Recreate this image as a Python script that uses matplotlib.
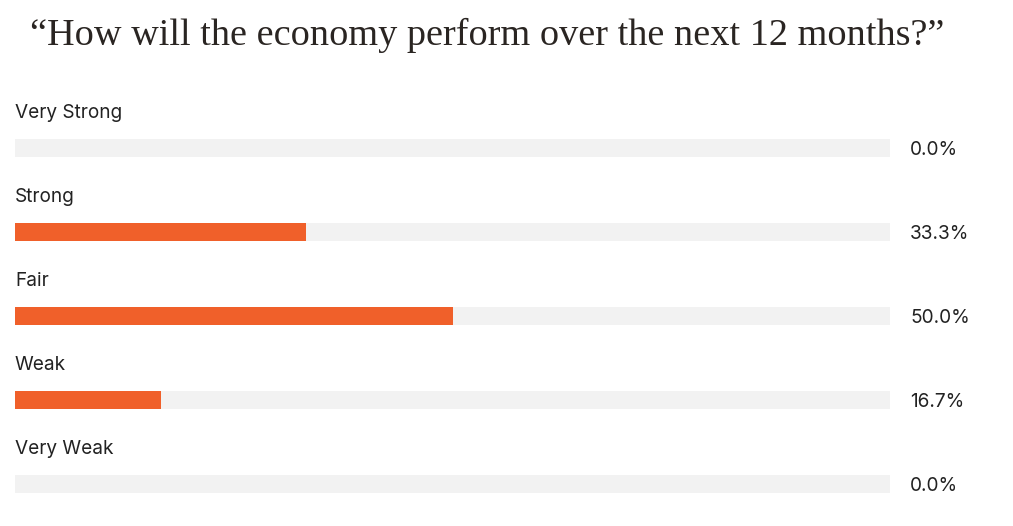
import matplotlib.pyplot as plt
from matplotlib.transforms import blended_transform_factory

categories = ["Very Strong", "Strong", "Fair", "Weak", "Very Weak"]
shares = [0.0, 33.3, 50.0, 16.7, 0.0]
title = "\u201cHow will the economy perform over the next 12 months?\u201d"

W, H = 1013, 526
fig = plt.figure(figsize=(W / 100, H / 100), dpi=100)

# axes spans the bar tracks: x 15..890 px, rows centred 148 + 84*i
left, right = 15, 890
top, bottom = 106, 526
ax = fig.add_axes([left / W, 1 - bottom / H, (right - left) / W, (bottom - top) / H])
ax.set_xlim(0, 100)
ax.set_ylim(len(categories) - 0.5, -0.5)
ax.axis("off")

ys = list(range(len(categories)))
bh = 18 / 84
ax.barh(ys, [100] * len(ys), height=bh, color="#f2f2f2", left=0)
ax.barh(ys, shares, height=bh, color="#f0602a", left=0)

tr = blended_transform_factory(ax.transAxes, ax.transData)
for i, (cat, v) in enumerate(zip(categories, shares)):
    ax.text(0, i - 30 / 84, cat, transform=tr, fontsize=13.7, family="Inter",
            color="#222222", va="baseline", ha="left")
    ax.text((910 - left) / (right - left), i + 2 / 84, f"{v:.1f}%", transform=tr,
            fontsize=13.7, family="Inter", color="#222222", va="center", ha="left")

fig.text(30 / W, 1 - 45 / H, title, fontsize=27.5, family="Liberation Serif",
         color="#2a2522", va="baseline", ha="left")

fig.savefig("out.png", dpi=100)
